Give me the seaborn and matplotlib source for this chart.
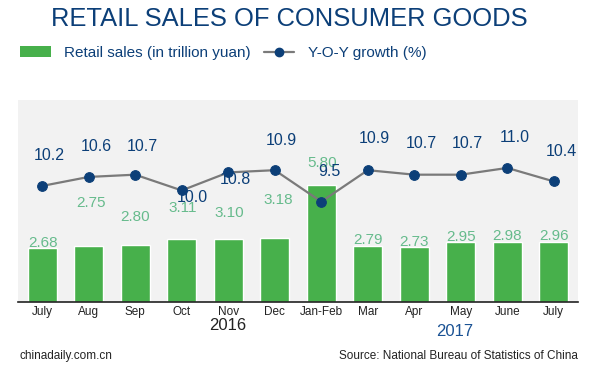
import numpy as np
import matplotlib
matplotlib.use("Agg")
import matplotlib.pyplot as plt
import seaborn as sns
from matplotlib.patches import Patch
from matplotlib.lines import Line2D

# --- DATA ---
months = ["July", "Aug", "Sep", "Oct", "Nov", "Dec", "Jan-Feb", "Mar", "Apr", "May", "June", "July"]
sales = [2.68, 2.75, 2.80, 3.11, 3.10, 3.18, 5.80, 2.79, 2.73, 2.95, 2.98, 2.96]
growth = [10.2, 10.6, 10.7, 10.0, 10.8, 10.9, 9.5, 10.9, 10.7, 10.7, 11.0, 10.4]

# label offsets in pixels (dx, dy) -- layout only
sales_off = [(1, 5), (2, 43), (0, 28), (1, 31), (1, 26), (4, 38), (1, 22), (0, 6), (0, 5), (0, 5), (0, 6), (0, 6)]
growth_off = [(7, 30), (8, 30), (7, 28), (11, -7), (7, -7), (7, 30), (8, 30), (7, 32), (7, 31), (7, 31), (7, 30), (8, 30)]

GREEN = "#47b04b"
GREEN_TXT = "#66bb8c"
BLUE = "#0c3f78"
GRAY = "#7a7a7a"
BG = "#f2f2f2"

sns.set_theme(style="white")
plt.rcParams["font.family"] = ["Liberation Sans", "DejaVu Sans"]

fig = plt.figure(figsize=(6, 3.82), dpi=100)
ax = fig.add_axes([18 / 600, 1 - 302 / 382, 560 / 600, 202 / 382])
ax.set_facecolor(BG)

x = np.arange(len(months))
sns.barplot(x=x, y=sales, color=GREEN, width=0.62, saturation=1, ax=ax)
ax.set_xlim(-0.52, 11.52)
ax.set_ylim(0, 10)
ax.set_yticks([])
ax.set_xticks(x)
ax.set_xticklabels(months, fontsize=8.5, color="#222222")
ax.tick_params(axis="x", length=0, pad=3)
for s in ["top", "left", "right"]:
    ax.spines[s].set_visible(False)
ax.spines["bottom"].set_color("#222222")
ax.spines["bottom"].set_linewidth(1.2)
ax.set_xlabel("")
ax.set_ylabel("")

ax2 = ax.twinx()
sns.lineplot(x=x, y=growth, ax=ax2, color=GRAY, linewidth=1.6, marker="o",
             markersize=7, markerfacecolor=BLUE, markeredgecolor=BLUE)
ax2.set_ylim(5.04, 14.02)
ax2.set_yticks([])
for s in ax2.spines.values():
    s.set_visible(False)
ax2.set_ylabel("")

for i, v in enumerate(sales):
    ax.annotate(f"{v:.2f}", (i, v), xytext=sales_off[i], textcoords="offset pixels",
                ha="center", va="center", fontsize=11, color=GREEN_TXT)
for i, v in enumerate(growth):
    ax2.annotate(f"{v:.1f}", (i, v), xytext=growth_off[i], textcoords="offset pixels",
                 ha="center", va="center", fontsize=11.5, color=BLUE)

# year labels
fig.text(228 / 600, 1 - 325 / 382, "2016", ha="center", va="center", fontsize=12, color="#222222")
fig.text(455 / 600, 1 - 331 / 382, "2017", ha="center", va="center", fontsize=12, color="#1a5294")

# title
fig.text(289 / 600, 1 - 19 / 382, "RETAIL SALES OF CONSUMER GOODS", ha="center", va="center",
         fontsize=18.4, color=BLUE)

# legend
handles = [Patch(facecolor=GREEN, edgecolor="none"),
           Line2D([0], [0], color=GRAY, linewidth=1.6, marker="o", markersize=6,
                  markerfacecolor=BLUE, markeredgecolor=BLUE)]
fig.legend(handles, ["Retail sales (in trillion yuan)", "Y-O-Y growth (%)"], ncol=2,
           loc="center left", bbox_to_anchor=(20 / 600, 1 - 53 / 382), frameon=False,
           borderpad=0, borderaxespad=0, fontsize=11, labelcolor=BLUE,
           handlelength=2.0, handleheight=0.75, handletextpad=0.9, columnspacing=0.85)

# footer
fig.text(20 / 600, 1 - 356 / 382, "chinadaily.com.cn", ha="left", va="center", fontsize=8.5, color="#222222")
fig.text(578 / 600, 1 - 356 / 382, "Source: National Bureau of Statistics of China", ha="right",
         va="center", fontsize=8.5, color="#222222")

fig.savefig("out.png", dpi=100)
